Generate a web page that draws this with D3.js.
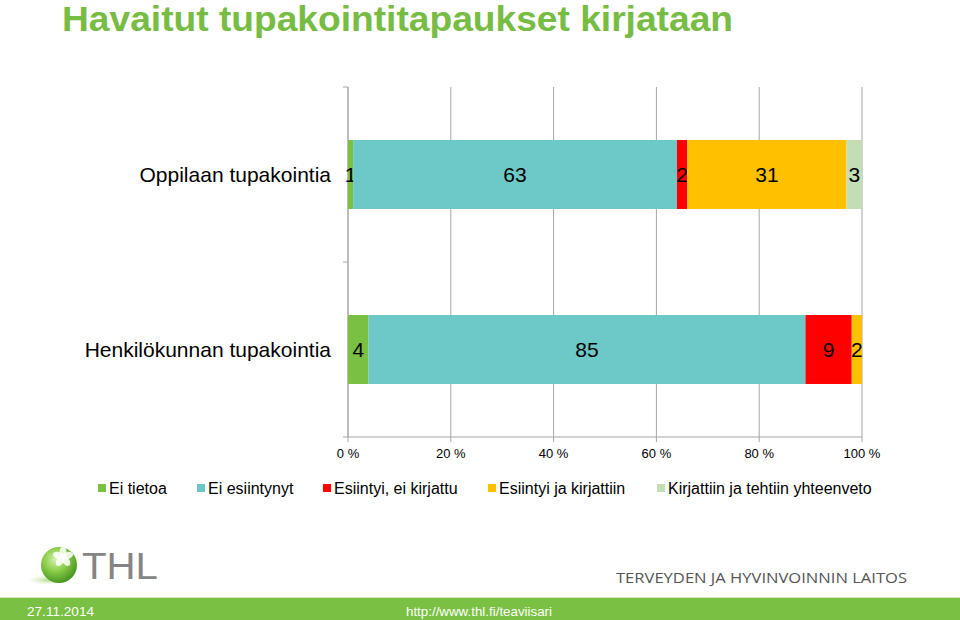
<!DOCTYPE html>
<html><head><meta charset="utf-8">
<script src="https://cdn.jsdelivr.net/npm/d3@7"></script>
<style>body{margin:0;background:#fff}svg{display:block}</style>
</head><body>
<svg id="c" width="960" height="620"></svg>
<script>
const categories = ["Oppilaan tupakointia", "Henkilökunnan tupakointia"];
const seriesNames = ["Ei tietoa", "Ei esiintynyt", "Esiintyi, ei kirjattu", "Esiintyi ja kirjattiin", "Kirjattiin ja tehtiin yhteenveto"];
const eiTietoa = [1, 4];
const eiEsiintynyt = [63, 85];
const esiintyiEiKirjattu = [2, 9];
const esiintyiJaKirjattiin = [31, 2];
const kirjattiinJaYhteenveto = [3, 0];
const tickValues = [0, 20, 40, 60, 80, 100];
const tickLabels = ["0 %", "20 %", "40 %", "60 %", "80 %", "100 %"];
const colors = ["#7AC143", "#6CC9C7", "#FF0000", "#FFC000", "#C3DDB4"];
const title = "Havaitut tupakointitapaukset kirjataan";

const series = [eiTietoa, eiEsiintynyt, esiintyiEiKirjattu, esiintyiJaKirjattiin, kirjattiinJaYhteenveto];
const table = categories.map((c, i) => {
  const row = {cat: c};
  seriesNames.forEach((s, j) => row[s] = series[j][i]);
  return row;
});
const stacked = d3.stack().keys(seriesNames)(table);

const svg = d3.select("#c");
const font = "'Liberation Sans', Arial, sans-serif";

// title
svg.append("text").attr("x", 62).attr("y", 31)
  .attr("font-family", font).attr("font-weight", "bold").attr("font-size", 35)
  .attr("fill", "#77BC43").attr("textLength", 671).attr("lengthAdjust", "spacingAndGlyphs")
  .text(title);

const x = d3.scaleLinear().domain([0, 100]).range([348, 862]);
const y = d3.scaleBand().domain(categories).range([87, 437]).paddingInner(0.606).paddingOuter(0.303);
const yb = d3.scaleBand().domain(categories).range([87, 437]);

// gridlines
svg.append("g").selectAll("line").data(tickValues).join("line")
  .attr("x1", d => x(d)).attr("x2", d => x(d))
  .attr("y1", 87).attr("y2", 442)
  .attr("stroke", "#A6A6A6").attr("stroke-width", 1);

// left axis line and category ticks
svg.append("line").attr("x1", x(0)).attr("x2", x(0)).attr("y1", 87).attr("y2", 437)
  .attr("stroke", "#A6A6A6");
const bounds = [yb.range()[0]].concat(categories.map(c => yb(c) + yb.bandwidth()));
svg.append("g").selectAll("line").data(bounds).join("line")
  .attr("x1", x(0) - 5).attr("x2", x(0)).attr("y1", d => d).attr("y2", d => d)
  .attr("stroke", "#A6A6A6");
// bottom axis line
svg.append("line").attr("x1", x(0)).attr("x2", x(100)).attr("y1", 437).attr("y2", 437)
  .attr("stroke", "#A6A6A6");

// bars
const layers = svg.append("g").selectAll("g").data(stacked).join("g")
  .attr("fill", (d, i) => colors[i]);
layers.selectAll("rect").data(d => d).join("rect")
  .attr("x", d => x(d[0])).attr("width", d => x(d[1]) - x(d[0]))
  .attr("y", d => y(d.data.cat)).attr("height", y.bandwidth());

// data labels
layers.selectAll("text").data(d => d.filter(p => p[1] - p[0] > 0)).join("text")
  .attr("x", d => (x(d[0]) + x(d[1])) / 2)
  .attr("y", d => y(d.data.cat) + y.bandwidth() / 2 + 7.5)
  .attr("text-anchor", "middle").attr("font-family", font).attr("font-size", 21)
  .attr("fill", "#000").text(d => d[1] - d[0]);

// category labels
svg.append("g").selectAll("text").data(categories).join("text")
  .attr("x", 331).attr("y", d => y(d) + y.bandwidth() / 2 + 7.5)
  .attr("text-anchor", "end").attr("font-family", font).attr("font-size", 21)
  .attr("fill", "#000").text(d => d);

// tick labels
svg.append("g").selectAll("text").data(tickValues).join("text")
  .attr("x", d => x(d)).attr("y", 458)
  .attr("text-anchor", "middle").attr("font-family", font).attr("font-size", 13)
  .attr("fill", "#000").text((d, i) => tickLabels[i]);

// legend
const legendX = [98, 197, 323, 488, 657];
const lg = svg.append("g").selectAll("g").data(seriesNames).join("g")
  .attr("transform", (d, i) => `translate(${legendX[i]},488)`);
lg.append("rect").attr("x", 0).attr("y", -4).attr("width", 8).attr("height", 8)
  .attr("fill", (d, i) => colors[i]);
lg.append("text").attr("x", 11).attr("y", 6).attr("font-family", font).attr("font-size", 16)
  .attr("fill", "#000").text(d => d);

// THL logo
const defs = svg.append("defs");
const rg = defs.append("radialGradient").attr("id", "sph").attr("cx", "0.4").attr("cy", "0.35").attr("r", "0.7");
rg.append("stop").attr("offset", "0").attr("stop-color", "#d8f0b8");
rg.append("stop").attr("offset", "0.45").attr("stop-color", "#8ccf4a");
rg.append("stop").attr("offset", "1").attr("stop-color", "#3f8f1c");
const sh = defs.append("radialGradient").attr("id", "shd").attr("cx", "0.5").attr("cy", "0.5").attr("r", "0.5");
sh.append("stop").attr("offset", "0").attr("stop-color", "#9fd46a").attr("stop-opacity", 0.8);
sh.append("stop").attr("offset", "1").attr("stop-color", "#cde8b0").attr("stop-opacity", 0);
svg.append("ellipse").attr("cx", 48).attr("cy", 580).attr("rx", 20).attr("ry", 5).attr("fill", "url(#shd)");
svg.append("circle").attr("cx", 59).attr("cy", 565).attr("r", 18).attr("fill", "url(#sph)");
const petals = svg.append("g").attr("transform", "translate(63,557)");
[0, 72, 144, 216, 288].forEach(a => {
  petals.append("ellipse").attr("cx", 0).attr("cy", -5).attr("rx", 3.5).attr("ry", 5.5)
    .attr("fill", "#ffffff").attr("opacity", 0.85).attr("transform", `rotate(${a})`);
});
svg.append("text").attr("x", 82).attr("y", 579).attr("font-family", font).attr("font-size", 36)
  .attr("fill", "#858585").attr("textLength", 76).attr("lengthAdjust", "spacingAndGlyphs").text("THL");
svg.append("text").attr("x", 616).attr("y", 583).attr("font-family", "'Open Sans', 'DejaVu Sans', sans-serif")
  .attr("font-size", 14).attr("fill", "#555").attr("textLength", 291).attr("lengthAdjust", "spacingAndGlyphs")
  .text("TERVEYDEN JA HYVINVOINNIN LAITOS");

// footer
svg.append("rect").attr("x", 0).attr("y", 597).attr("width", 960).attr("height", 1).attr("fill", "#d5e9c3");
svg.append("rect").attr("x", 0).attr("y", 598).attr("width", 960).attr("height", 22).attr("fill", "#7AC143");
svg.append("text").attr("x", 27).attr("y", 616).attr("font-family", font).attr("font-size", 13)
  .attr("fill", "#fff").attr("textLength", 67).attr("lengthAdjust", "spacingAndGlyphs").text("27.11.2014");
svg.append("text").attr("x", 406).attr("y", 616).attr("font-family", font).attr("font-size", 13)
  .attr("fill", "#fff").attr("textLength", 146).attr("lengthAdjust", "spacingAndGlyphs").text("http://www.thl.fi/teaviisari");
</script>
</body></html>
